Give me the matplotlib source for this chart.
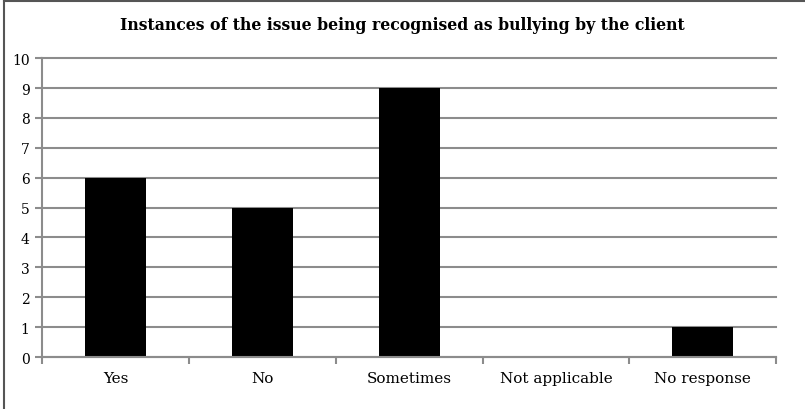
import matplotlib.pyplot as plt
from matplotlib.lines import Line2D
import numpy as np

categorias = ['Yes', 'No', 'Sometimes', 'Not applicable', 'No response']
valores = [6, 5, 9, 0, 1]
yticks = list(range(0, 11))

plt.rcParams['font.family'] = ['DejaVu Serif']
gris = '#8c8c8c'

fig = plt.figure(figsize=(8.05, 4.1), dpi=100)
ax = fig.add_axes([0.0522, 0.1268, 0.912, 0.729])

x = np.arange(len(categorias))
ax.bar(x, valores, 0.415, color='black', zorder=3)

ax.set_xlim(-0.5, len(categorias) - 0.5)
ax.set_ylim(0, 10)
ax.set_yticks(yticks)
ax.yaxis.grid(True, color=gris, linewidth=1.5, zorder=0)
for g in ax.get_ygridlines():
    g.set_clip_on(False)

# ticks de categoria en los bordes
ax.set_xticks(np.arange(len(categorias) + 1) - 0.5)
ax.set_xticklabels([])
ax.set_xticks(x, minor=True)
ax.set_xticklabels(categorias, minor=True, fontsize=11)
ax.tick_params(axis='x', which='major', length=5, width=1.5, color=gris, direction='out')
ax.tick_params(axis='x', which='minor', length=0, pad=10)
ax.tick_params(axis='y', length=5, width=1.5, color=gris, labelsize=10, pad=4)

for s in ['top', 'right']:
    ax.spines[s].set_visible(False)
for s in ['left', 'bottom']:
    ax.spines[s].set_color(gris)
    ax.spines[s].set_linewidth(1.5)
    ax.spines[s].set_zorder(4)

fig.text(0.5, 0.938, 'Instances of the issue being recognised as bullying by the client',
         ha='center', va='center', fontsize=11.3, fontweight='bold')

# marco exterior (solo izquierda y arriba visibles)
fig.add_artist(Line2D([0.005, 0.005], [0, 0.995], color='#555555', linewidth=1.5))
fig.add_artist(Line2D([0.005, 1], [0.995, 0.995], color='#555555', linewidth=1.5))

fig.savefig('out.png', dpi=100)
